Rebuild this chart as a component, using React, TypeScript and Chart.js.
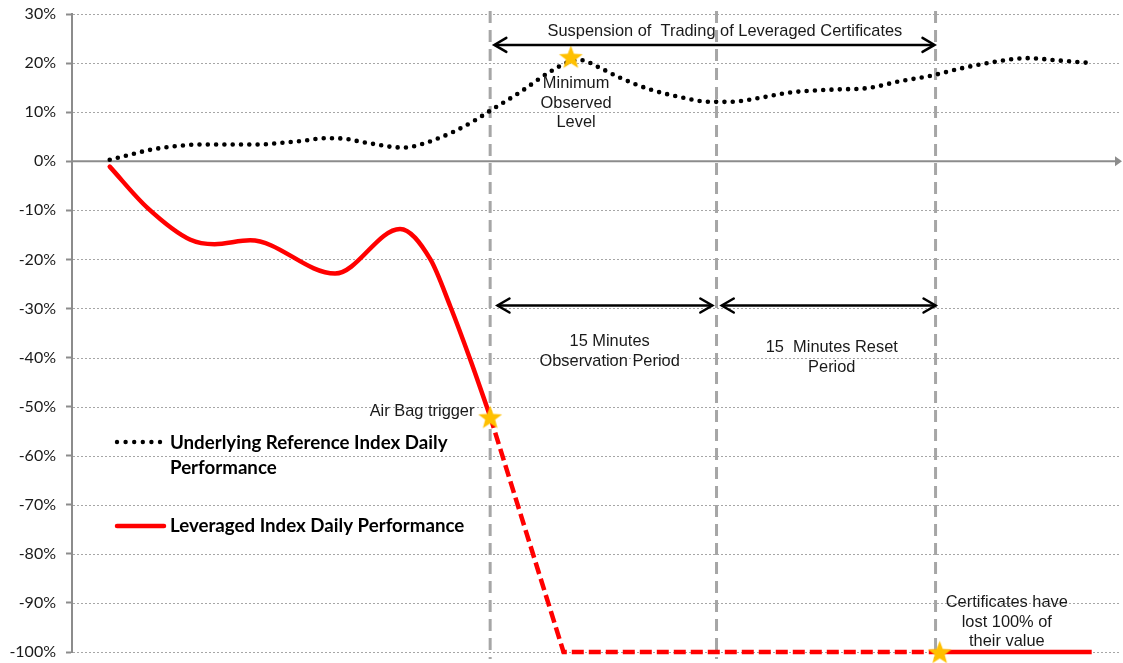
import { useEffect, useRef } from 'react';
import { Chart, registerables } from 'chart.js';

Chart.register(...registerables);

// ---- axis ----
const yMin = -100;
const yMax = 30;
const yStep = 10;
const xMin = 0;
const xMax = 100;

// ---- Underlying Reference Index Daily Performance (dotted black) ----
const underlyingX = [3.6, 5.5, 7.4, 9.6, 12.2, 15.1, 17.9, 19.8, 21.8, 24.3, 26.0, 27.5, 29.1, 30.6, 31.5, 32.3, 33.7, 35.1, 36.5, 38.5, 39.9, 42.7, 45.6, 47.5, 48.5, 50.4, 52.3, 55.2, 58.0, 60.9, 62.8, 65.6, 68.5, 72.6, 75.9, 79.0, 81.9, 85.0, 87.9, 91.1, 94.3, 97.3];
const underlyingY = [0.3, 1.3, 2.3, 3.0, 3.4, 3.4, 3.4, 3.7, 4.1, 4.7, 4.6, 4.0, 3.4, 2.9, 2.8, 2.9, 3.7, 4.8, 6.1, 8.4, 10.3, 14.0, 18.2, 20.3, 20.6, 19.0, 17.0, 14.6, 13.1, 12.1, 12.1, 12.9, 14.0, 14.6, 14.9, 16.3, 17.4, 19.0, 20.2, 21.0, 20.5, 20.0];

// ---- Leveraged Index Daily Performance (red) ----
const leveragedX = [3.6, 7.2, 11.3, 13.6, 17.0, 25.1, 31.3, 34.2, 36.1, 38.0, 39.9];
const leveragedY = [-1.1, -9.5, -16.0, -16.9, -16.1, -22.9, -13.8, -20.0, -29.6, -40.4, -52.0];
// after the air bag trigger
const afterTriggerX = [39.9, 46.9, 82.4, 97.3];
const afterTriggerY = [-52.0, -100, -100, -100];

// ---- event markers ----
const airBagX = 39.9;
const observationEndX = 61.5;
const resetEndX = 82.4;
const markerLinesX = [airBagX, observationEndX, resetEndX];

const starX = [47.6, 39.9, 82.8];
const starY = [21.3, -52.1, -100];

// ---- annotation texts ----
const noteLines = [
  ['Suspension of  Trading of Leveraged Certificates'],
  ['Minimum', 'Observed', 'Level'],
  ['15 Minutes', 'Observation Period'],
  ['15  Minutes Reset', 'Period'],
  ['Air Bag trigger'],
  ['Certificates have', 'lost 100% of', 'their value'],
];
const noteX = [62.3, 48.1, 51.3, 72.5, 38.4, 89.2];
const noteY = [26.4, 15.8, -36.8, -38.0, -50.9, -90.0];
const noteAlign = ['center', 'center', 'center', 'center', 'right', 'center'];

// ---- double arrows ----
const arrowX1 = [40.3, 40.6, 62.0];
const arrowX2 = [82.3, 61.1, 82.4];
const arrowY = [23.7, -29.4, -29.4];

// ---- legend ----
const legendLabels = [['Underlying Reference Index Daily', 'Performance'], ['Leveraged Index Daily Performance']];

function makeStar(R: number, ratio: number, color: string) {
  const c = document.createElement('canvas');
  const s = Math.ceil(R * 2 + 2);
  c.width = s;
  c.height = s;
  const g = c.getContext('2d')!;
  g.translate(s / 2, s / 2 + R * 0.1);
  g.beginPath();
  for (let i = 0; i < 10; i++) {
    const rad = i % 2 === 0 ? R : R * ratio;
    const a = -Math.PI / 2 + (i * Math.PI) / 5;
    const px = Math.cos(a) * rad;
    const py = Math.sin(a) * rad;
    if (i === 0) g.moveTo(px, py);
    else g.lineTo(px, py);
  }
  g.closePath();
  g.fillStyle = color;
  g.fill();
  return c;
}

function drawArrowHead(ctx: CanvasRenderingContext2D, x: number, y: number, dir: number) {
  ctx.beginPath();
  ctx.moveTo(x - dir * 12, y - 7);
  ctx.lineTo(x, y);
  ctx.lineTo(x - dir * 12, y + 7);
  ctx.stroke();
}

const annotationPlugin = {
  id: 'annotations',
  beforeDatasetsDraw(chart: any) {
    const { ctx, chartArea } = chart;
    const xs = chart.scales.x;
    const ys = chart.scales.y;
    ctx.save();
    // dotted grid lines
    ctx.strokeStyle = '#a6a6a6';
    ctx.lineWidth = 1;
    ctx.setLineDash([2, 2]);
    for (let v = yMin; v <= yMax; v += yStep) {
      if (v === 0) continue;
      const py = Math.round(ys.getPixelForValue(v)) + 0.5;
      ctx.beginPath();
      ctx.moveTo(chartArea.left + 1, py);
      ctx.lineTo(chartArea.right, py);
      ctx.stroke();
    }
    // zero axis line with arrow
    ctx.setLineDash([]);
    const py0 = ys.getPixelForValue(0);
    ctx.strokeStyle = '#8c8c8c';
    ctx.lineWidth = 2;
    ctx.beginPath();
    ctx.moveTo(chartArea.left, py0);
    ctx.lineTo(chartArea.right - 4, py0);
    ctx.stroke();
    ctx.fillStyle = '#8c8c8c';
    ctx.beginPath();
    ctx.moveTo(chartArea.right - 5, py0 - 5);
    ctx.lineTo(chartArea.right + 2, py0);
    ctx.lineTo(chartArea.right - 5, py0 + 5);
    ctx.closePath();
    ctx.fill();
    // vertical dashed marker lines
    ctx.strokeStyle = '#a6a6a6';
    ctx.lineWidth = 3;
    ctx.setLineDash([12, 7]);
    markerLinesX.forEach((mx) => {
      const px = xs.getPixelForValue(mx);
      ctx.beginPath();
      ctx.moveTo(px, chartArea.top - 3);
      ctx.lineTo(px, chartArea.bottom + 7);
      ctx.stroke();
    });
    ctx.restore();
  },
  afterDatasetsDraw(chart: any) {
    const { ctx, chartArea } = chart;
    const xs = chart.scales.x;
    const ys = chart.scales.y;
    ctx.save();
    // arrows
    ctx.strokeStyle = '#000';
    ctx.lineWidth = 2.5;
    ctx.lineCap = 'round';
    ctx.lineJoin = 'miter';
    arrowY.forEach((ay, i) => {
      const x1 = xs.getPixelForValue(arrowX1[i]);
      const x2 = xs.getPixelForValue(arrowX2[i]);
      const py = ys.getPixelForValue(ay);
      ctx.beginPath();
      ctx.moveTo(x1 + 1, py);
      ctx.lineTo(x2 - 1, py);
      ctx.stroke();
      drawArrowHead(ctx, x1, py, -1);
      drawArrowHead(ctx, x2, py, 1);
    });
    // notes
    ctx.font = '16.4px "Liberation Sans", Arial, sans-serif';
    ctx.fillStyle = '#1a1a1a';
    ctx.textBaseline = 'middle';
    const lh = 19.5;
    noteLines.forEach((lines, i) => {
      const px = xs.getPixelForValue(noteX[i]);
      const py = ys.getPixelForValue(noteY[i]);
      ctx.textAlign = noteAlign[i] as CanvasTextAlign;
      lines.forEach((t, j) => ctx.fillText(t, px, py + j * lh));
    });
    // legend
    const lx = chartArea.left + 45;
    const ly1 = chartArea.top + 428;
    const ly2 = chartArea.top + 512;
    ctx.fillStyle = '#000';
    for (let k = 0; k < 6; k++) {
      ctx.beginPath();
      ctx.arc(lx + k * 8.6, ly1, 2.2, 0, Math.PI * 2);
      ctx.fill();
    }
    ctx.strokeStyle = '#ff0000';
    ctx.lineWidth = 4.5;
    ctx.lineCap = 'round';
    ctx.beginPath();
    ctx.moveTo(lx, ly2);
    ctx.lineTo(lx + 47, ly2);
    ctx.stroke();
    ctx.font = 'bold 18.7px Lato, sans-serif';
    ctx.fillStyle = '#000';
    ctx.textAlign = 'left';
    legendLabels[0].forEach((t, j) => ctx.fillText(t, lx + 53, ly1 + 1 + j * 24.5));
    legendLabels[1].forEach((t, j) => ctx.fillText(t, lx + 53, ly2 + j * 24.5));
    ctx.restore();
  },
};

function pts(xs: number[], ys: number[]) {
  return xs.map((x, i) => ({ x, y: ys[i] }));
}

export default function App() {
  const ref = useRef<HTMLCanvasElement>(null);
  useEffect(() => {
    const canvas = ref.current!;
    const star = makeStar(12.5, 0.42, '#FFC000');
    const chart = new Chart(canvas, {
      type: 'line',
      data: {
        datasets: [
          {
            label: 'Events',
            data: pts(starX, starY),
            showLine: false,
            pointStyle: star as any,
            pointRadius: 10,
            clip: false,
            order: 0,
          } as any,
          {
            label: 'Leveraged Index Daily Performance',
            data: pts(leveragedX, leveragedY),
            borderColor: '#ff0000',
            borderWidth: 4.5,
            pointRadius: 0,
            cubicInterpolationMode: 'monotone',
            borderCapStyle: 'round',
            clip: false,
            order: 1,
          },
          {
            label: 'Leveraged Index after trigger',
            data: pts(afterTriggerX, afterTriggerY),
            borderColor: '#ff0000',
            borderWidth: 4.5,
            pointRadius: 0,
            tension: 0,
            clip: false,
            segment: {
              borderDash: (c: any) => (c.p1.parsed.x <= resetEndX + 0.01 ? [12, 5] : undefined),
            },
            order: 1,
          },
          {
            label: 'Underlying Reference Index Daily Performance',
            data: pts(underlyingX, underlyingY),
            borderColor: '#000',
            borderWidth: 4.6,
            borderDash: [0, 8.3],
            borderCapStyle: 'round',
            pointRadius: 0,
            cubicInterpolationMode: 'monotone',
            clip: false,
            order: 2,
          },
        ],
      },
      options: {
        animation: false,
        responsive: true,
        maintainAspectRatio: false,
        layout: { autoPadding: false, padding: { left: 0, right: 3, top: 14, bottom: 11 } },
        plugins: { legend: { display: false }, tooltip: { enabled: false } },
        scales: {
          x: { type: 'linear', min: xMin, max: xMax, display: false },
          y: {
            min: yMin,
            max: yMax,
            ticks: {
              stepSize: yStep,
              callback: (v: any) => v + '%',
              font: { family: 'Lato', size: 16 },
              color: '#1a1a1a',
              padding: 10,
            },
            grid: { drawOnChartArea: false, drawTicks: true, tickLength: 6, tickColor: '#8c8c8c', tickWidth: 2 },
            border: { display: true, color: '#8c8c8c', width: 2 },
            afterFit: (s: any) => {
              s.width = 72;
              s.paddingTop = 0;
              s.paddingBottom = 0;
            },
          },
        },
      } as any,
      plugins: [annotationPlugin],
    });
    return () => chart.destroy();
  }, []);
  return (
    <div style={{ position: 'fixed', left: 0, top: 0, width: 1123, height: 663, background: '#fff' }}>
      <canvas ref={ref} />
    </div>
  );
}
